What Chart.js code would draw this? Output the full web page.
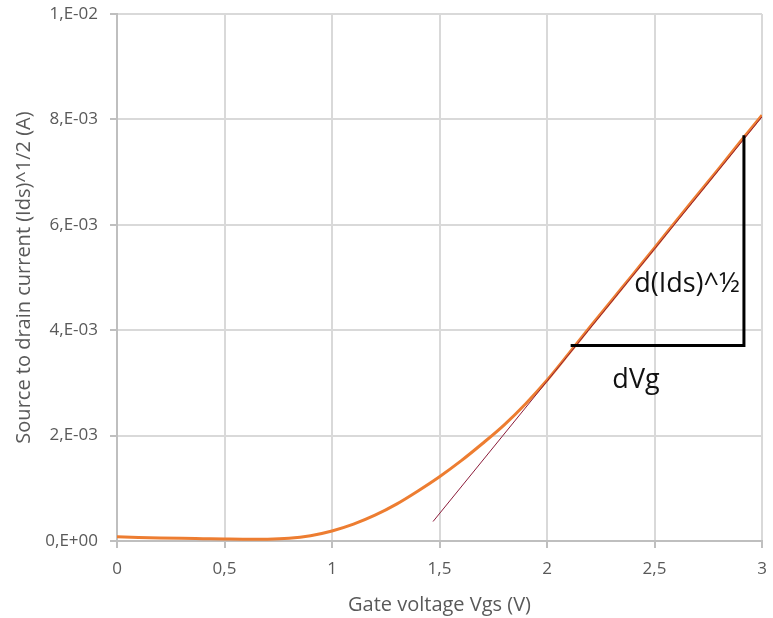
<!DOCTYPE html>
<html>
<head>
<meta charset="utf-8">
<script src="https://cdn.jsdelivr.net/npm/chart.js@4/dist/chart.umd.min.js"></script>
<style>
  html, body { margin: 0; padding: 0; background: #ffffff; }
  #wrap { width: 773px; height: 618px; }
</style>
</head>
<body>
<div id="wrap"><canvas id="chart" width="773" height="618"></canvas></div>
<script>
// Transfer curve: gate voltage (V) vs square root of drain current (A^1/2)
const gateVoltage = [0, 0.1, 0.2, 0.3, 0.4, 0.5, 0.6, 0.7, 0.8, 0.9, 1.0,
                     1.1, 1.2, 1.3, 1.4, 1.5, 1.6, 1.7, 1.8, 1.9, 2.0,
                     2.1, 2.2, 2.3, 2.4, 2.5, 2.6, 2.7, 2.8, 2.9, 3.0];
const sqrtDrainCurrent = [8.0e-5, 6.8e-5, 5.8e-5, 5.0e-5, 4.4e-5, 3.8e-5, 3.4e-5, 3.5e-5, 5.0e-5, 1.0e-4, 1.9e-4,
                          3.2e-4, 4.9e-4, 7.0e-4, 9.5e-4, 1.22e-3, 1.52e-3, 1.85e-3, 2.2e-3, 2.6e-3, 3.05e-3,
                          3.55e-3, 4.06e-3, 4.56e-3, 5.06e-3, 5.56e-3, 6.07e-3, 6.57e-3, 7.07e-3, 7.58e-3, 8.08e-3];

// Tangent fitted to the linear (saturation) region
const tangentVoltage = [1.47, 3.0];
const tangentCurrent = [3.7e-4, 8.05e-3];

// Slope triangle: dVg leg and d(Ids)^1/2 leg
const triangleVoltage = [2.11, 2.916, 2.916];
const triangleCurrent = [3.71e-3, 3.71e-3, 7.70e-3];

// Axis ticks
const xTickValues = [0, 0.5, 1, 1.5, 2, 2.5, 3];
const xTickLabels = ['0', '0,5', '1', '1,5', '2', '2,5', '3'];
const yTickValues = [0, 0.002, 0.004, 0.006, 0.008, 0.01];
const yTickLabels = ['0,E+00', '2,E-03', '4,E-03', '6,E-03', '8,E-03', '1,E-02'];

// Text annotations anchored in data coordinates
const annotationTexts = ['d(Ids)^\u00BD', 'dVg'];
const annotationVoltage = [2.651, 2.414];
const annotationCurrent = [4.88e-3, 3.05e-3];

const toPoints = (xs, ys) => xs.map((x, i) => ({ x: x, y: ys[i] }));

const FONT = '"Open Sans", "Liberation Sans", sans-serif';
const GRID = '#d9d9d9';
const AXIS = '#bfbfbf';
const TEXT = '#595959';

const annotationPlugin = {
  id: 'slopeLabels',
  afterDatasetsDraw(chart) {
    const { ctx, scales } = chart;
    ctx.save();
    ctx.fillStyle = '#111111';
    ctx.font = '27px ' + FONT;
    ctx.textAlign = 'center';
    ctx.textBaseline = 'middle';
    annotationTexts.forEach((t, i) => {
      ctx.fillText(t, scales.x.getPixelForValue(annotationVoltage[i]),
                      scales.y.getPixelForValue(annotationCurrent[i]));
    });
    ctx.restore();
  }
};

new Chart(document.getElementById('chart'), {
  type: 'line',
  data: {
    datasets: [
      {
        label: 'Tangent',
        data: toPoints(tangentVoltage, tangentCurrent),
        borderColor: '#8b1c3a',
        borderWidth: 1,
        pointRadius: 0,
        tension: 0,
        order: 1
      },
      {
        label: 'Slope',
        data: toPoints(triangleVoltage, triangleCurrent),
        borderColor: '#000000',
        borderWidth: 3,
        pointRadius: 0,
        tension: 0,
        borderJoinStyle: 'miter',
        order: 0
      },
      {
        label: 'sqrt(Ids)',
        data: toPoints(gateVoltage, sqrtDrainCurrent),
        borderColor: '#ed7d31',
        borderWidth: 3,
        pointRadius: 0,
        cubicInterpolationMode: 'monotone',
        order: 2
      }
    ]
  },
  options: {
    responsive: false,
    animation: false,
    devicePixelRatio: 1,
    layout: { padding: { top: 14, right: 11, left: 0, bottom: 0 } },
    plugins: { legend: { display: false }, tooltip: { enabled: false } },
    scales: {
      x: {
        type: 'linear',
        min: 0,
        max: 3,
        afterBuildTicks(scale) { scale.ticks = xTickValues.map(v => ({ value: v })); },
        afterFit(scale) {
          scale.height = 77;
          scale.paddingLeft = 0;
          scale.paddingRight = 0;
        },
        ticks: {
          color: TEXT,
          font: { family: FONT, size: 17 },
          padding: 11,
          maxRotation: 0,
          autoSkip: false,
          callback: (v) => xTickLabels[xTickValues.indexOf(v)]
        },
        grid: { color: GRID, lineWidth: 2, tickLength: 7, tickColor: AXIS, drawTicks: true },
        border: { color: AXIS, width: 2 },
        title: {
          display: true,
          text: 'Gate voltage Vgs (V)',
          color: TEXT,
          font: { family: FONT, size: 20 },
          padding: { top: 0, bottom: 1 }
        }
      },
      y: {
        type: 'linear',
        min: 0,
        max: 0.01,
        afterBuildTicks(scale) { scale.ticks = yTickValues.map(v => ({ value: v })); },
        afterFit(scale) {
          scale.width = 117;
          scale.paddingTop = 0;
          scale.paddingBottom = 0;
        },
        ticks: {
          color: TEXT,
          font: { family: FONT, size: 17 },
          padding: 12,
          autoSkip: false,
          callback: (v) => yTickLabels[yTickValues.indexOf(v)]
        },
        grid: { color: GRID, lineWidth: 2, tickLength: 7, tickColor: AXIS, drawTicks: true },
        border: { color: AXIS, width: 2 },
        title: {
          display: true,
          text: 'Source to drain current (Ids)^1/2 (A)',
          color: TEXT,
          font: { family: FONT, size: 20 },
          padding: { top: 12, bottom: 0 }
        }
      }
    }
  },
  plugins: [annotationPlugin]
});
</script>
</body>
</html>
